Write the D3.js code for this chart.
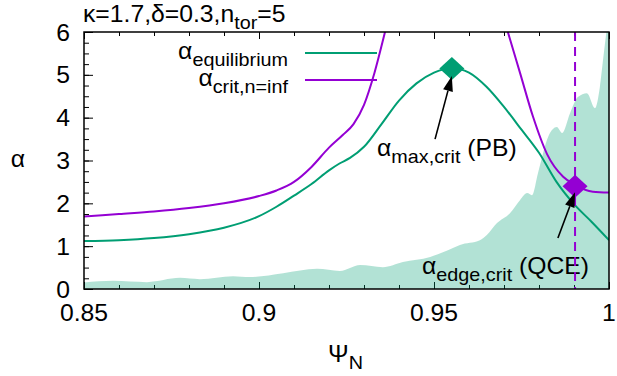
<!DOCTYPE html>
<html>
<head>
<meta charset="utf-8">
<script src="https://cdn.jsdelivr.net/npm/d3@7"></script>
<style>
body { margin: 0; background: #fff; }
text { font-family: "Liberation Sans", Arial, Helvetica, sans-serif; white-space: pre; }
</style>
</head>
<body>
<div class="mainView"></div>
<script>
// alpha_equilibrium
const eqPsi   = [0.85, 0.86, 0.87, 0.88, 0.89, 0.9, 0.905, 0.91, 0.915, 0.92, 0.923, 0.926, 0.93, 0.935, 0.94, 0.945, 0.95, 0.955, 0.96, 0.965, 0.97, 0.975, 0.98, 0.985, 0.99, 0.995, 1.0];
const eqAlpha = [1.12, 1.14, 1.19, 1.28, 1.43, 1.70, 1.92, 2.18, 2.45, 2.77, 2.93, 3.06, 3.32, 3.85, 4.40, 4.80, 5.05, 5.16, 5.05, 4.72, 4.25, 3.72, 3.18, 2.50, 1.98, 1.57, 1.14];

// alpha_crit,n=inf (two branches, goes off the top in between)
const critLPsi   = [0.85, 0.86, 0.87, 0.88, 0.89, 0.9, 0.905, 0.91, 0.915, 0.92, 0.924, 0.927, 0.93, 0.933, 0.936, 0.9375];
const critLAlpha = [1.69, 1.75, 1.81, 1.89, 2.0, 2.17, 2.30, 2.50, 2.85, 3.30, 3.60, 3.85, 4.30, 5.05, 6.0, 6.5];
const critRPsi   = [0.969, 0.9711, 0.9746, 0.9783, 0.9823, 0.9869, 0.9903, 0.9954, 1.0];
const critRAlpha = [6.6, 6.0, 5.04, 4.02, 3.15, 2.62, 2.43, 2.27, 2.25];

// alpha_edge,crit (shaded)
const edgePsi   = [0.85, 0.8583, 0.868, 0.8774, 0.8831, 0.8926, 0.8974, 0.9069, 0.9166, 0.9231, 0.9289, 0.9354, 0.9411, 0.9489, 0.9554, 0.9574, 0.9631, 0.9651, 0.968, 0.9717, 0.9746, 0.9766, 0.978, 0.9797, 0.9826, 0.9851, 0.9866, 0.9889, 0.9911, 0.9937, 0.996, 0.9974, 0.9983, 0.9994, 1.0];
const edgeAlpha = [0.15, 0.19, 0.16, 0.26, 0.23, 0.30, 0.28, 0.37, 0.47, 0.42, 0.56, 0.51, 0.63, 0.75, 0.96, 1.03, 1.14, 1.26, 1.54, 1.77, 2.08, 2.24, 2.19, 2.70, 3.55, 3.78, 3.64, 4.11, 4.48, 4.57, 4.22, 4.72, 5.35, 6.1, 6.5];

// markers and arrows
const pbPoint  = [0.9551, 5.15];
const qcePoint = [0.9903, 2.40];
const pbArrow  = [[0.9503, 3.50], [0.9551, 4.97]];
const qceArrow = [[0.9854, 1.19], [0.9903, 2.26]];

const xTicks = [0.85, 0.9, 0.95, 1.0];
const xMinor = d3.range(0, 16).map(i => 0.85 + i * 0.01);
const yTicks = [0, 1, 2, 3, 4, 5, 6];
const yMinor = d3.range(0, 25).map(i => i * 0.25);

const GREEN = "#009e73", PURPLE = "#9400d3";
const FS = 24, SX = 1.03, SUB = 7;

const width = 617, height = 376;
const margin = {top: 32, right: 8, bottom: 87, left: 84};
const bodyWidth = width - margin.left - margin.right;
const bodyHeight = height - margin.top - margin.bottom;

const svg = d3.select(".mainView").append("svg")
    .attr("width", width).attr("height", height);

const x = d3.scaleLinear().domain([0.85, 1.0]).range([margin.left, margin.left + bodyWidth]);
const y = d3.scaleLinear().domain([0, 6]).range([margin.top + bodyHeight, margin.top]);

// text with gnuplot-like subscripts
function etext(px, py, parts, anchor) {
    let t = svg.append("text")
        .attr("transform", "translate(" + [px, py] + ") scale(" + SX + ",1)")
        .attr("text-anchor", anchor || "start")
        .style("font-size", FS + "px")
        .attr("fill", "#000");
    let shift = 0;
    parts.forEach(p => {
        let s = t.append("tspan").text(p.t);
        let want = p.sub ? SUB : 0;
        if (want !== shift) { s.attr("dy", want - shift); shift = want; }
        if (p.sub) s.style("font-size", (FS * 0.8) + "px");
    });
    return t;
}

svg.append("clipPath").attr("id", "plotclip")
    .append("rect")
    .attr("x", margin.left).attr("y", margin.top)
    .attr("width", bodyWidth).attr("height", bodyHeight);

// ticks
function tickAxis(axis, tx, ty) {
    let g = svg.append("g").attr("transform", "translate(" + [tx, ty] + ")").call(axis);
    g.select(".domain").remove();
    g.selectAll("line").attr("stroke", "#000").attr("stroke-width", 1);
    return g;
}
tickAxis(d3.axisLeft(y).tickValues(yMinor).tickSize(-5).tickFormat(""), margin.left, 0);
tickAxis(d3.axisLeft(y).tickValues(yTicks).tickSize(-9).tickFormat(""), margin.left, 0);
tickAxis(d3.axisTop(x).tickValues(xMinor).tickSize(-4).tickFormat(""), 0, margin.top);
tickAxis(d3.axisTop(x).tickValues(xTicks).tickSize(-7).tickFormat(""), 0, margin.top);
tickAxis(d3.axisBottom(x).tickValues(xMinor).tickSize(-4).tickFormat(""), 0, margin.top + bodyHeight);
tickAxis(d3.axisBottom(x).tickValues(xTicks).tickSize(-7).tickFormat(""), 0, margin.top + bodyHeight);

// tick labels
yTicks.forEach(v => etext(margin.left - 14, y(v) + 8.5, [{t: String(v)}], "end"));
xTicks.forEach(v => etext(x(v), margin.top + bodyHeight + 32, [{t: d3.format("~g")(v)}], "middle"));

const plot = svg.append("g").attr("clip-path", "url(#plotclip)");

// shaded edge stability
const edgeData = edgePsi.map((p, i) => [p, edgeAlpha[i]]);
plot.append("path")
    .datum(edgeData)
    .attr("d", d3.area().x(d => x(d[0])).y0(y(0)).y1(d => y(d[1])).curve(d3.curveMonotoneX))
    .attr("fill", GREEN).attr("fill-opacity", 0.3);

const line = d3.line().x(d => x(d[0])).y(d => y(d[1])).curve(d3.curveMonotoneX);
plot.append("path")
    .datum(eqPsi.map((p, i) => [p, eqAlpha[i]]))
    .attr("d", line).attr("fill", "none").attr("stroke", GREEN).attr("stroke-width", 2);
plot.append("path")
    .datum(critLPsi.map((p, i) => [p, critLAlpha[i]]))
    .attr("d", line).attr("fill", "none").attr("stroke", PURPLE).attr("stroke-width", 2);
plot.append("path")
    .datum(critRPsi.map((p, i) => [p, critRAlpha[i]]))
    .attr("d", line).attr("fill", "none").attr("stroke", PURPLE).attr("stroke-width", 2);

// legend
etext(288, 59, [{t: "α"}, {t: "equilibrium", sub: true}], "end");
etext(288, 86, [{t: "α"}, {t: "crit,n=inf", sub: true}], "end");
svg.append("line").attr("x1", 305).attr("x2", 377).attr("y1", 53).attr("y2", 53)
    .attr("stroke", GREEN).attr("stroke-width", 2);
svg.append("line").attr("x1", 305).attr("x2", 377).attr("y1", 80).attr("y2", 80)
    .attr("stroke", PURPLE).attr("stroke-width", 2);

// annotation labels
etext(377, 156, [{t: "α"}, {t: "max,crit", sub: true}, {t: " (PB)"}]);
etext(422, 274, [{t: "α"}, {t: "edge,crit", sub: true}, {t: " (QCE)"}]);

// dashed marker line at QCE position
svg.append("line")
    .attr("x1", x(qcePoint[0])).attr("x2", x(qcePoint[0]))
    .attr("y1", y(6)).attr("y2", y(0))
    .attr("stroke", PURPLE).attr("stroke-width", 2).attr("stroke-dasharray", "9,6");

// diamonds
function diamond(p, color) {
    let cx = x(p[0]), cy = y(p[1]);
    svg.append("path")
        .attr("d", "M" + [cx, cy - 11.5] + "L" + [cx + 12.5, cy] + "L" + [cx, cy + 11.5] + "L" + [cx - 12.5, cy] + "Z")
        .attr("fill", color);
}
diamond(pbPoint, GREEN);
diamond(qcePoint, PURPLE);

// arrows
function arrow(a) {
    let x1 = x(a[0][0]), y1 = y(a[0][1]), x2 = x(a[1][0]), y2 = y(a[1][1]);
    let ang = Math.atan2(y2 - y1, x2 - x1);
    let hl = 15, hw = 5;
    let bx = x2 - hl * Math.cos(ang), by = y2 - hl * Math.sin(ang);
    svg.append("line").attr("x1", x1).attr("y1", y1).attr("x2", bx).attr("y2", by)
        .attr("stroke", "#000").attr("stroke-width", 1.6);
    svg.append("path")
        .attr("d", "M" + [x2, y2] +
            "L" + [bx + hw * Math.sin(ang), by - hw * Math.cos(ang)] +
            "L" + [bx - hw * Math.sin(ang), by + hw * Math.cos(ang)] + "Z")
        .attr("fill", "#000");
}
arrow(pbArrow);
arrow(qceArrow);

// border
svg.append("rect")
    .attr("x", margin.left).attr("y", margin.top)
    .attr("width", bodyWidth).attr("height", bodyHeight)
    .attr("fill", "none").attr("stroke", "#000").attr("stroke-width", 1.5);

// title and axis labels
etext(83, 22, [{t: "κ=1.7,δ=0.3,n"}, {t: "tor", sub: true}, {t: "=5"}]);
etext(18, 167, [{t: "α"}], "middle");
etext(328, 362, [{t: "Ψ"}, {t: "N", sub: true}]);
</script>
</body>
</html>
